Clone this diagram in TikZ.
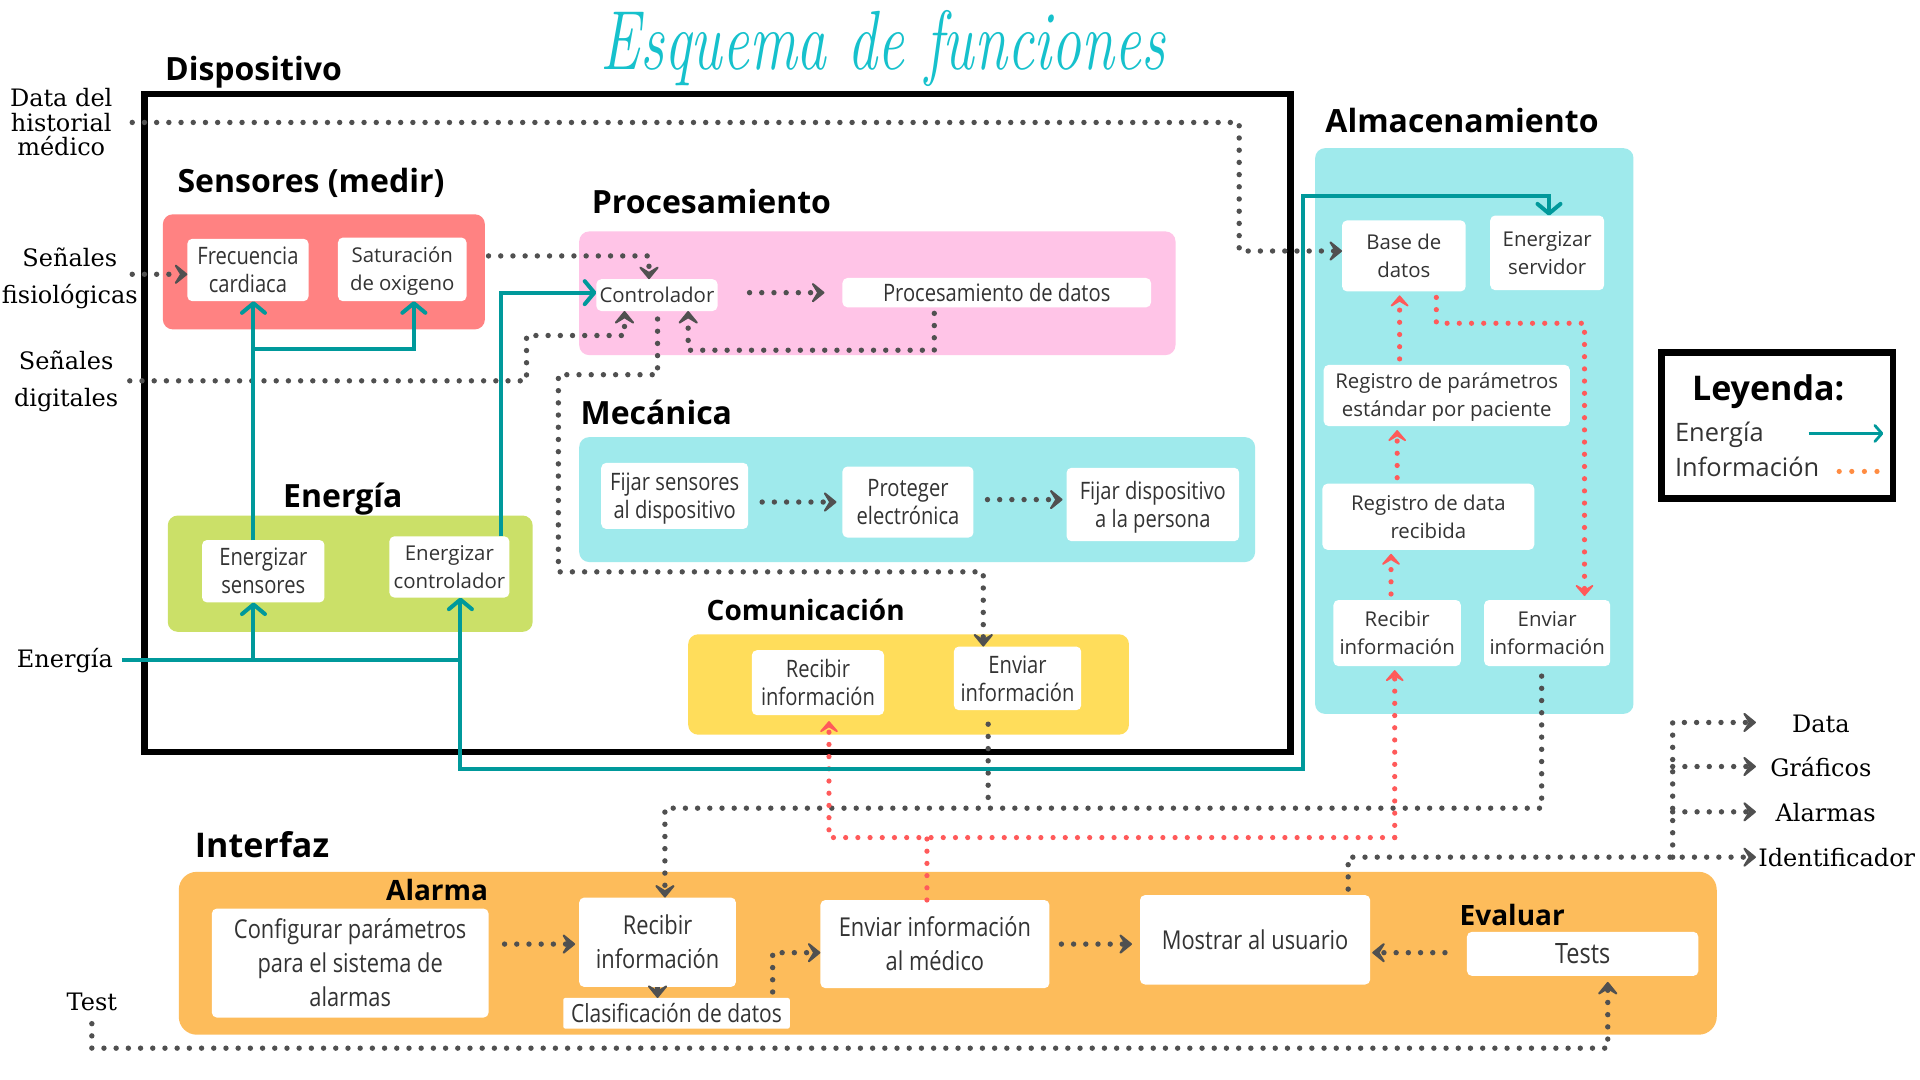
\documentclass[tikz,border=0pt]{standalone}
\usepackage{fontspec}
\usepackage{graphicx}
\usetikzlibrary{arrows.meta,fit,calc}
\newfontfamily\osr{Open Sans}
\newfontfamily\osc{Open Sans}[FakeStretch=0.84]
\newfontfamily\slab{DejaVu Serif}
\definecolor{salmonbg}{HTML}{FF8282}
\definecolor{pinkbg}{HTML}{FFC4E7}
\definecolor{cyanbg}{HTML}{9FEAEC}
\definecolor{greenbg}{HTML}{CBE068}
\definecolor{yellowbg}{HTML}{FFDD5B}
\definecolor{orangebg}{HTML}{FDBC5B}
\definecolor{dgray}{HTML}{505050}
\definecolor{redd}{HTML}{FF5A5A}
\definecolor{tealc}{HTML}{00999B}
\definecolor{titlec}{HTML}{16C1CC}
\definecolor{txt}{HTML}{333333}
\definecolor{orng}{HTML}{FF8C42}
\tikzset{
  every node/.style={inner sep=0pt, outer sep=0pt},
  GT/.tip={Stealth[length=8pt,width=13pt,inset=4pt,round]},
  RT/.tip={Stealth[length=7pt,width=12pt,inset=3.6pt,round]},
  TT/.tip={Straight Barb[length=4.8pt,width=11.5pt,round]},
  bgbox/.style={rounded corners=5pt, draw=none},
  wb/.style={fill=white, rounded corners=2.5pt},
  nfont/.style={font=\osr\fontsize{10.2}{14}\selectfont},
  cfont/.style={font=\osc\fontsize{12}{14}\selectfont},
  ifont/.style={font=\osc\fontsize{13}{17}\selectfont},
  head/.style={font=\osr\bfseries\fontsize{#1}{#1}\selectfont, anchor=base},
  head/.default=16,
  ext/.style={font=\slab\fontsize{12}{#1}\selectfont, align=center, text=black, anchor=base},
  ext/.default=12.2,
  gdot/.style={draw=dgray, line width=2.7pt, line cap=round, dash pattern=on 0pt off 6.1pt},
  rdot/.style={draw=redd, line width=2.6pt, line cap=round, dash pattern=on 0pt off 6.1pt},
  tline/.style={draw=tealc, line width=2pt},
}
% text of a white box: name, font style, vertical offset of the last baseline from box centre, text
\newcommand\boxtext[4]{\node[anchor=base, align=center, text=txt, #2] (#1t) at ($(#1.center)+(0,#3)$) {#4};}
\begin{document}
\begin{tikzpicture}[x=0.6122pt,y=-0.6122pt]
\useasboundingbox (0,0) rectangle (1568,882);
\fill[white] (0,0) rectangle (1568,882);

% title
\node[text=titlec, anchor=base] (title) at (721,57) {\scalebox{0.71}[1]{\fontsize{42}{42}\selectfont\itshape Esquema de funciones}};

% ---------- background groups
\node[bgbox, fill=salmonbg, fit={(133,175)(396,269)}] (sensbg) {};
\node[bgbox, fill=pinkbg, fit={(473,189)(960,290)}] (procbg) {};
\node[bgbox, fill=cyanbg, fit={(473,357)(1025,459)}] (mecbg) {};
\node[bgbox, fill=greenbg, fit={(137,421)(435,516)}] (enbg) {};
\node[bgbox, fill=yellowbg, fit={(562,518)(922,600)}] (combg) {};
\node[bgbox, fill=cyanbg, fit={(1074,121)(1334,583)}] (almbg) {};
\node[bgbox, rounded corners=9pt, fill=orangebg, fit={(146,712)(1402,845)}] (intbg) {};

% Dispositivo frame
\node[draw=black, line width=3.2pt, fit={(118,77)(1054,614)}] (disp) {};

% ---------- headings (baselines)
\node[head] (hdisp) at (207,65.5) {Dispositivo};
\node[head] (hsens) at (254,157.5) {Sensores (medir)};
\node[head] (hproc) at (581,174.5) {Procesamiento};
\node[head] (hmec) at (536,346.5) {Mecánica};
\node[head] (hen) at (280,414.5) {Energía};
\node[head=14] (hcom) at (658,506.5) {Comunicación};
\node[head] (halm) at (1194,108.5) {Almacenamiento};
\node[head=17] (hint) at (214,700) {Interfaz};
\node[head=14] (halar) at (357,735.5) {Alarma};
\node[head=14] (heval) at (1235,755.5) {Evaluar};

% ---------- white boxes
\node[wb, fit={(153,195)(252,246)}] (fc) {};
\node[wb, fit={(276,194)(381,246)}] (so) {};
\node[wb, fit={(487,228)(586,254)}] (ctrl) {};
\node[wb, fit={(688,227)(940,251)}] (pd) {};
\node[wb, fit={(491,378)(611,432)}] (fs) {};
\node[wb, fit={(688,381)(795,439)}] (pe) {};
\node[wb, fit={(871,382)(1012,442)}] (fd) {};
\node[wb, fit={(165,441)(265,492)}] (es) {};
\node[wb, fit={(318,438)(416,488)}] (ec) {};
\node[wb, fit={(614,531)(722,584)}] (cr) {};
\node[wb, fit={(779,528)(883,580)}] (ce) {};
\node[wb, fit={(1096,180)(1197,238)}] (bd) {};
\node[wb, fit={(1217,176)(1310,237)}] (esv) {};
\node[wb, fit={(1081,298)(1282,348)}] (rp) {};
\node[wb, fit={(1080,395)(1253,449)}] (rd) {};
\node[wb, fit={(1089,490)(1193,544)}] (ar) {};
\node[wb, fit={(1212,490)(1315,544)}] (ae) {};
\node[wb, fit={(173,742)(399,831)}] (cp) {};
\node[wb, fit={(473,733)(601,806)}] (ir) {};
\node[wb, rounded corners=1pt, fit={(460,815)(645,840)}] (cd) {};
\node[wb, fit={(670,735)(857,807)}] (em) {};
\node[wb, fit={(931,731)(1119,804)}] (mu) {};
\node[wb, fit={(1198,761)(1387,797)}] (ts) {};

\boxtext{fc}{cfont}{18.5}{Frecuencia\\cardiaca}
\boxtext{so}{nfont}{17.4}{Saturación\\de oxigeno}
\boxtext{ctrl}{nfont}{5.9}{Controlador}
\boxtext{pd}{cfont}{7.0}{Procesamiento de datos}
\boxtext{fs}{cfont}{18.5}{Fijar sensores\\al dispositivo}
\boxtext{pe}{cfont}{18.5}{Proteger\\electrónica}
\boxtext{fd}{cfont}{18.5}{Fijar dispositivo\\a la persona}
\boxtext{es}{cfont}{18.5}{Energizar\\sensores}
\boxtext{ec}{nfont}{17.4}{Energizar\\controlador}
\boxtext{cr}{cfont}{18.5}{Recibir\\información}
\boxtext{ce}{cfont}{18.5}{Enviar\\información}
\boxtext{bd}{nfont}{17.4}{Base de\\datos}
\boxtext{esv}{nfont}{17.4}{Energizar\\servidor}
\boxtext{rp}{nfont}{17.4}{Registro de parámetros\\estándar por paciente}
\boxtext{rd}{nfont}{17.4}{Registro de data\\recibida}
\boxtext{ar}{nfont}{17.4}{Recibir\\información}
\boxtext{ae}{nfont}{17.4}{Enviar\\información}
\boxtext{cp}{ifont}{35.3}{Configurar parámetros\\para el sistema de\\alarmas}
\boxtext{ir}{ifont}{21.5}{Recibir\\información}
\boxtext{cd}{font=\osc\fontsize{12.5}{14}\selectfont}{7.3}{Clasificación de datos}
\boxtext{em}{ifont}{21.5}{Enviar información\\al médico}
\boxtext{mu}{ifont}{7.6}{Mostrar al usuario}
\boxtext{ts}{font=\osc\fontsize{14}{16}\selectfont}{8.2}{Tests}

% ---------- external labels (baselines of last lines)
\node[ext] (histl) at (50,127) {Data del\\historial\\médico};
\node[ext=18.4] (sfl) at (57,248) {Señales\\fisiológicas};
\node[ext=18.4] (sdl) at (54,332) {Señales\\digitales};
\node[ext] (enl) at (53,545.5) {Energía};
\node[ext] (testl) at (75,825) {Test};
\node[ext] (datl) at (1487,598) {Data};
\node[ext] (grl) at (1487,634) {Gráficos};
\node[ext] (all) at (1491,671) {Alarmas};
\node[ext] (idl) at (1500,708) {Identificador};

% free ends
\coordinate (hS) at (108,100);
\coordinate (sfS) at (108,224);
\coordinate (sdS) at (106,311);
\coordinate (eS) at (100,539);
\coordinate (tS) at (75,836);
\coordinate (oD) at (1434,590);
\coordinate (oG) at (1434,626);
\coordinate (oA) at (1434,663);
\coordinate (oI) at (1434,700);

% ---------- gray information connectors
\draw[gdot,-{GT}] (hS) -- (1012,100) -- (1012,205) -- (bd.west |- 0,205);
\draw[gdot,-{GT}] (sfS) -- (fc.west |- sfS);
\draw[gdot,-{GT}] (sdS) -- (430,311) -- (430,274) -- (510,274) -- (510,0 |- ctrl.south);
\draw[gdot,-{GT},shorten <=11pt] (so.east |- 0,209) -- (530,209) -- (530,0 |- ctrl.north);
\draw[gdot,-{GT},shorten <=16pt,shorten >=9pt] (ctrl.east |- 0,239) -- (pd.west |- 0,239);
\draw[gdot,-{GT},shorten <=3pt] (763,0 |- pd.south) -- (763,286) -- (562,286) -- (562,0 |- ctrl.south);
\draw[gdot,-{GT},shorten <=4pt] (537,0 |- ctrl.south) -- (537,306) -- (456,306) -- (456,467) -- (803,467) -- (803,0 |- ce.north);
\draw[gdot,-{GT},shorten <=7pt,shorten >=3pt] (fs.east |- 0,410) -- (pe.west |- 0,410);
\draw[gdot,-{GT},shorten <=7pt,shorten >=2pt] (pe.east |- 0,408) -- (fd.west |- 0,408);
\draw[gdot,shorten <=7pt] (807,0 |- ce.south) -- (807,660);
\draw[gdot,-{GT},shorten <=5pt] (1259,0 |- ae.south) -- (1259,660) -- (543,660) -- (543,0 |- ir.north);
\draw[gdot,-{GT},shorten <=8pt,shorten >=2pt] (cp.east |- 0,771) -- (ir.west |- 0,771);
\draw[draw=dgray, line width=2.2pt,-{GT}] (537,0 |- ir.south) -- (537,0 |- cd.north);
\draw[gdot,-{GT},shorten <=3pt] (631,0 |- cd.north) -- (631,778) -- (em.west |- 0,778);
\draw[gdot,-{GT},shorten <=6pt,shorten >=4pt] (em.east |- 0,771) -- (mu.west |- 0,771);
\draw[gdot,-{GT},shorten <=11pt,shorten >=1pt] (ts.west |- 0,778) -- (mu.east |- 0,778);
\draw[gdot,-{GT},shorten >=3pt] (tS) -- (75,856) -- (1313,856) -- (1313,0 |- ts.south);
\draw[gdot,-{GT},shorten <=3pt] (1101,0 |- mu.north) -- (1101,700) -- (oI);
\draw[gdot,-{GT}] (1366,700) -- (1366,590) -- (oD);
\draw[gdot,-{GT}] (1366,626) -- (oG);
\draw[gdot,-{GT}] (1366,663) -- (oA);

% ---------- red information connectors
\draw[rdot] (757,0 |- em.north) -- (757,684);
\draw[rdot,-{RT},shorten >=3pt] (1139,684) -- (677,684) -- (677,0 |- cr.south);
\draw[rdot,-{RT},shorten >=2pt] (1139,684) -- (1139,0 |- ar.south);
\draw[rdot,-{RT},shorten <=3pt,shorten >=2pt] (1136,0 |- ar.north) -- (1136,0 |- rd.south);
\draw[rdot,-{RT},shorten <=3pt,shorten >=2pt] (1141,0 |- rd.north) -- (1141,0 |- rp.south);
\draw[rdot,-{RT},shorten <=3pt,shorten >=2pt] (1143,0 |- rp.north) -- (1143,0 |- bd.south);
\draw[rdot,-{RT},shorten <=3pt,shorten >=2pt] (1173,0 |- bd.south) -- (1173,264) -- (1294,264) -- (1294,0 |- ae.north);

% ---------- teal energy connectors
\draw[tline] (eS) -- (376,539);
\draw[tline,-{TT}] (207,539) -- (207,0 |- es.south);
\draw[tline,-{TT}] (376,539) -- (376,0 |- ec.south);
\draw[tline,-{TT}] (376,539) -- (376,628) -- (1064,628) -- (1064,160) -- (1265,160) -- (1265,0 |- esv.north);
\draw[tline,-{TT}] (207,0 |- es.north) -- (207,0 |- fc.south);
\draw[tline,-{TT}] (207,285) -- (338,285) -- (338,0 |- so.south);
\draw[tline,-{TT}] (409,0 |- ec.north) -- (409,239) -- (ctrl.west |- 0,239);

% ---------- legend
\node[draw=black, line width=3.2pt, fit={(1357,288)(1546,407)}] (leg) {};
\node[head=17] (legt) at (1444,327) {Leyenda:};
\node[font=\osr\fontsize{12.7}{14}\selectfont, text=txt, anchor=base west] (lege) at (1368,360.5) {Energía};
\node[font=\osr\fontsize{12.7}{14}\selectfont, text=txt, anchor=base west] (legi) at (1368,389.5) {Información};
\coordinate (leA) at (1477,354);
\coordinate (leB) at (1538,354);
\draw[draw=tealc, line width=1.4pt, -{Straight Barb[length=3.5pt,width=8pt,round]}] (leA) -- (leB);
\coordinate (loA) at (1502,385);
\coordinate (loB) at (1533,385);
\draw[draw=orng, line width=2.6pt, line cap=round, dash pattern=on 0pt off 6.3pt] (loA) -- (loB);
\end{tikzpicture}
\end{document}
